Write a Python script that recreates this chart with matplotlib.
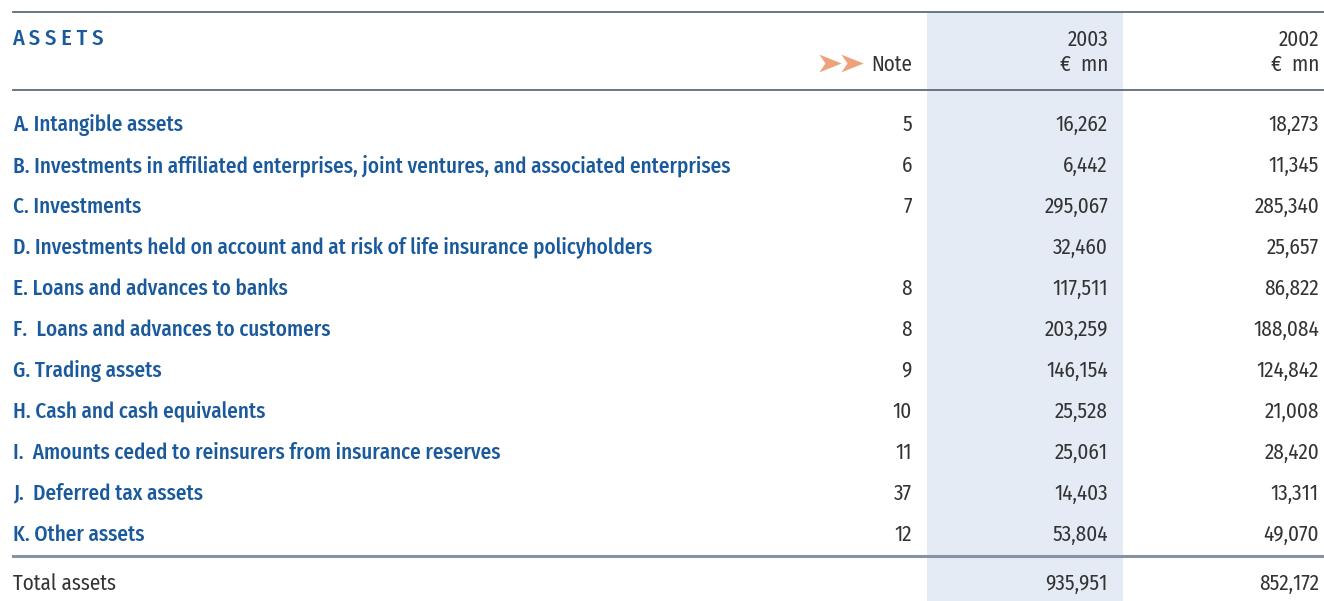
import matplotlib
matplotlib.use("Agg")
import matplotlib.pyplot as plt
from matplotlib import font_manager
from matplotlib.path import Path

# --- table content ---
labels = [
    "A. Intangible assets",
    "B. Investments in affiliated enterprises, joint ventures, and associated enterprises",
    "C. Investments",
    "D. Investments held on account and at risk of life insurance policyholders",
    "E. Loans and advances to banks",
    "F.  Loans and advances to customers",
    "G. Trading assets",
    "H. Cash and cash equivalents",
    "I.  Amounts ceded to reinsurers from insurance reserves",
    "J.  Deferred tax assets",
    "K. Other assets",
]
notes = ["5", "6", "7", "", "8", "8", "9", "10", "11", "37", "12"]
vals_2003 = ["16,262", "6,442", "295,067", "32,460", "117,511", "203,259",
             "146,154", "25,528", "25,061", "14,403", "53,804"]
vals_2002 = ["18,273", "11,345", "285,340", "25,657", "86,822", "188,084",
             "124,842", "21,008", "28,420", "13,311", "49,070"]
total_label = "Total assets"
total_2003 = "935,951"
total_2002 = "852,172"
years = ["2003", "2002"]
unit = "\u20ac  mn"

# pick a condensed face if one is there
available = {f.name for f in font_manager.fontManager.ttflist}
main = "DejaVu Sans"
for cand in ["Fira Sans Condensed", "PT Sans Narrow", "Open Sans Condensed", "Roboto Condensed"]:
    if cand in available:
        main = cand
        break
plt.rcParams["font.family"] = [main, "DejaVu Sans"]

BLUE = "#1a5a9c"
GREY = "#333333"
LINE = "#5d6b7a"
SHADE = "#e4ebf4"
ORANGE = "#eda27a"
LW = 500  # label weight

W, H = 1324, 601
fig = plt.figure(figsize=(W / 100, H / 100), dpi=100)
ax = fig.add_axes([0, 0, 1, 1])
ax.set_xlim(0, W)
ax.set_ylim(H, 0)
ax.axis("off")

# size the type so the longest label runs to ~x=735 as in the original
renderer = fig.canvas.get_renderer()
probe = ax.text(0, 0, labels[1], fontsize=10, fontweight=LW)
wpx = probe.get_window_extent(renderer).width
probe.remove()
FS = min(10 * 722 / wpx, 16)

# shaded current-year column
ax.add_patch(plt.Rectangle((927, 12), 196, H - 12, color=SHADE, lw=0, zorder=0))

# rules
ax.plot([13, W], [11.5, 11.5], color=LINE, lw=1.3)
ax.plot([13, W], [89.5, 89.5], color=LINE, lw=1.3)
ax.plot([13, W], [556, 556], color="#8593a2", lw=2.2)

x_note, x_c1, x_c2 = 912, 1108, 1319
off = 1.5  # nudge text down a touch

# notched arrowhead marker like the original's
arrow = Path([(-1, -0.8), (1, 0), (-1, 0.8), (-0.45, 0), (-1, -0.8)],
             [Path.MOVETO, Path.LINETO, Path.LINETO, Path.LINETO, Path.CLOSEPOLY])

# header
ax.text(12, 37 + off, "A S S E T S", color=BLUE, fontsize=FS * 1.05, fontweight=LW,
        va="center", ha="left")
ax.text(x_note, 63 + off, "Note", color=GREY, fontsize=FS, va="center", ha="right")
for xa in (830, 852):
    ax.plot(xa, 63, marker=arrow, markersize=16, color=ORANGE, mec=ORANGE, mew=0)
for xr, yr in zip((x_c1, x_c2), years):
    ax.text(xr, 38 + off, yr, color=GREY, fontsize=FS, va="center", ha="right")
    ax.text(xr, 63 + off, unit, color=GREY, fontsize=FS, va="center", ha="right")

# body rows
y0, dy = 123, 41
for i, (lab, nt, v1, v2) in enumerate(zip(labels, notes, vals_2003, vals_2002)):
    y = y0 + i * dy + off
    ax.text(13, y, lab, color=BLUE, fontsize=FS, fontweight=LW, va="center", ha="left")
    ax.text(x_note, y, nt, color=GREY, fontsize=FS, va="center", ha="right")
    ax.text(x_c1, y, v1, color=GREY, fontsize=FS, va="center", ha="right")
    ax.text(x_c2, y, v2, color=GREY, fontsize=FS, va="center", ha="right")

# total row
ax.text(13, 582 + off, total_label, color=GREY, fontsize=FS, va="center", ha="left")
ax.text(x_c1, 582 + off, total_2003, color=GREY, fontsize=FS, va="center", ha="right")
ax.text(x_c2, 582 + off, total_2002, color=GREY, fontsize=FS, va="center", ha="right")

fig.savefig("out.png", dpi=100)
